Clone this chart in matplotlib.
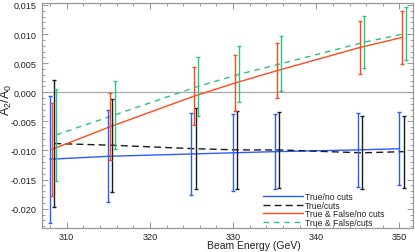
import matplotlib
matplotlib.use("Agg")
import matplotlib.pyplot as plt
import numpy as np

energies = [308, 315, 325, 330, 335, 345, 350]

labels = ["True/no cuts", "True/cuts", "True & False/no cuts", "True & False/cuts"]
offsets = [0.0, 0.5, 0.25, 0.75]

true_nocuts = [-0.0115, -0.0110, -0.0106, -0.0104, -0.0102, -0.0099, -0.0097]
true_nocuts_err = [0.0109, 0.0079, 0.0070, 0.0066, 0.0065, 0.0063, 0.0063]

true_cuts = [-0.0088, -0.0091, -0.0097, -0.0099, -0.0099, -0.0104, -0.0102]
true_cuts_err = [0.0109, 0.0080, 0.0070, 0.0067, 0.0065, 0.0063, 0.0062]

tf_nocuts = [-0.0098, -0.0059, -0.0007, 0.0016, 0.0037, 0.0077, 0.0094]
tf_nocuts_err = [0.0080, 0.0058, 0.0050, 0.0048, 0.0047, 0.0045, 0.0045]

tf_cuts = [-0.0073, -0.0039, 0.0010, 0.0031, 0.0049, 0.0086, 0.0101]
tf_cuts_err = [0.0079, 0.0058, 0.0050, 0.0048, 0.0047, 0.0045, 0.0045]

series = [true_nocuts, true_cuts, tf_nocuts, tf_cuts]
errors = [true_nocuts_err, true_cuts_err, tf_nocuts_err, tf_cuts_err]
colors = ["#2b5cff", "#1a1a1a", "#ff4a1c", "#2ec27e"]
styles = ["-", (0, (5, 3)), "-", (0, (4, 3.5))]

ytick_vals = [-0.020, -0.015, -0.010, -0.005, 0.000, 0.005, 0.010, 0.015]
ytick_labels = ["-0.020", "-0.015", "-0.010", "-0.005", "0.000", "0.005", "0.010", "0.015"]
xtick_vals = [310, 320, 330, 340, 350]

plt.rcParams['font.family'] = ['Liberation Sans', 'DejaVu Sans']
plt.rcParams['mathtext.default'] = 'regular'

fig = plt.figure(figsize=(4.15, 2.53), dpi=100)
ax = fig.add_axes([42.3/415, 1-229.3/253, (413.3-42.3)/415, (229.3-4.3)/253])

ax.axhline(0, color="#aaaaaa", lw=0.9, zorder=1)

handles = []
for vals, errs, off, c, ls, lab in zip(series, errors, offsets, colors, styles, labels):
    x = np.array(energies) + off
    ax.errorbar(x, vals, yerr=errs, fmt='none', ecolor=c, elinewidth=1.0,
                capsize=1.3, capthick=1.0, zorder=3)
    h, = ax.plot(x, vals, color=c, lw=1.0, linestyle=ls, label=lab, zorder=2)
    handles.append(h)

ax.set_xlim(307.07, 351.66)
ax.set_ylim(-0.02337, 0.01529)
ax.set_xticks(xtick_vals)
ax.set_xticks(np.arange(308, 352, 2), minor=True)
ax.set_yticks(ytick_vals)
ax.set_yticks(np.arange(-0.023, 0.0155, 0.001), minor=True)
ax.set_yticklabels(ytick_labels)

for sp in ax.spines.values():
    sp.set_color("#999999")
    sp.set_linewidth(0.9)
ax.tick_params(which='both', direction='in', top=True, right=True, color="#999999",
               labelsize=6.6, labelcolor="#222222", width=0.7)
ax.tick_params(which='major', length=4)
ax.tick_params(axis='y', which='major', pad=4)
ax.tick_params(axis='x', which='major', pad=2.5)
ax.tick_params(which='minor', length=2)

ax.set_xlabel("Beam Energy (GeV)", fontsize=7.5, color="#222222")
ax.xaxis.set_label_coords(0.569, -0.05)
ax.set_ylabel("A$_2$/A$_0$", fontsize=9, color="#222222")
ax.yaxis.set_label_coords(-0.077, 0.575)

leg = ax.legend(handles=handles, loc='lower right', bbox_to_anchor=(0.925, 0.0),
                frameon=False, fontsize=6.2, handlelength=4.6, handletextpad=0.25,
                labelspacing=-0.05, borderpad=0.1, borderaxespad=0.05)
for t in leg.get_texts():
    t.set_color("#222222")

fig.savefig("out.png", dpi=100)
